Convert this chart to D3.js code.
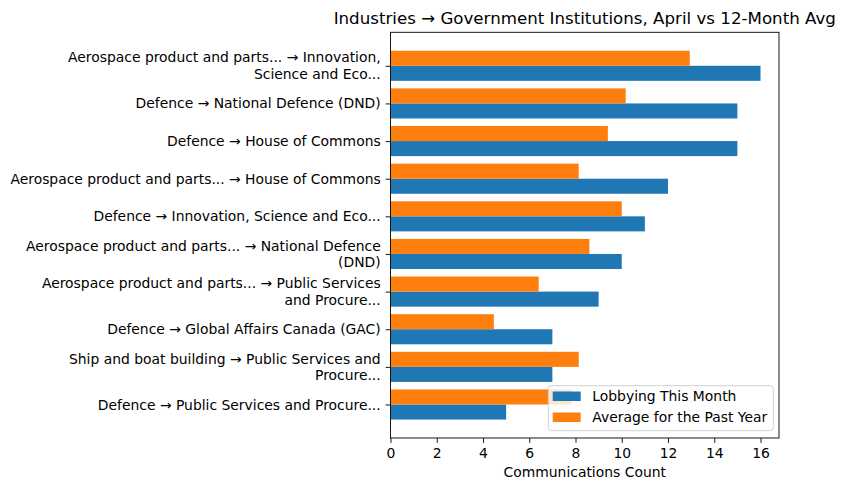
<!DOCTYPE html>
<html>
<head>
<meta charset="utf-8">
<script src="https://cdn.jsdelivr.net/npm/d3@7"></script>
<style>
  html, body { margin: 0; padding: 0; background: #fff; }
  text { font-family: "DejaVu Sans", sans-serif; fill: #000; }
</style>
</head>
<body>
<svg id="chart" width="845" height="491"></svg>
<script>
// Categories, listed top to bottom as shown
const categories = [
  "Aerospace product and parts... → Innovation,\nScience and Eco...",
  "Defence → National Defence (DND)",
  "Defence → House of Commons",
  "Aerospace product and parts... → House of Commons",
  "Defence → Innovation, Science and Eco...",
  "Aerospace product and parts... → National Defence\n(DND)",
  "Aerospace product and parts... → Public Services\nand Procure...",
  "Defence → Global Affairs Canada (GAC)",
  "Ship and boat building → Public Services and\nProcure...",
  "Defence → Public Services and Procure..."
];
const thisMonth = [16, 15, 15, 12, 11, 10, 9, 7, 7, 5];
const pastYearAvg = [12.94, 10.17, 9.40, 8.14, 10.0, 8.6, 6.41, 4.47, 8.14, 7.83];
const xTicks = [0, 2, 4, 6, 8, 10, 12, 14, 16];
const seriesNames = ["Lobbying This Month", "Average for the Past Year"];
const seriesColors = ["#1f77b4", "#ff7f0e"];
const titleText = "Industries → Government Institutions, April vs 12-Month Avg";
const xLabelText = "Communications Count";

const svg = d3.select("#chart");
const L = 390.5, R = 779, T = 32.3, B = 438;
const n = categories.length;
const h = 0.4;
const FS = 13.9;

const x = d3.scaleLinear().domain([0, 16.8]).range([L, R]);
const y = d3.scaleLinear().domain([-0.4 - 0.49, n - 1 + 0.4 + 0.49]).range([B, T]);

const rows = categories.map((c, i) => ({ label: c, idx: n - 1 - i, a: thisMonth[i], b: pastYearAvg[i] }));

const g = svg.append("g");
// blue bars (below tick)
g.selectAll("rect.a").data(rows).join("rect")
  .attr("x", x(0)).attr("width", d => x(d.a) - x(0))
  .attr("y", d => y(d.idx)).attr("height", d => y(d.idx - h) - y(d.idx))
  .attr("fill", seriesColors[0]);
// orange bars (above tick)
g.selectAll("rect.b").data(rows).join("rect")
  .attr("x", x(0)).attr("width", d => x(d.b) - x(0))
  .attr("y", d => y(d.idx + h)).attr("height", d => y(d.idx) - y(d.idx + h))
  .attr("fill", seriesColors[1]);

// frame
svg.append("rect").attr("x", L).attr("y", T).attr("width", R - L).attr("height", B - T)
  .attr("fill", "none").attr("stroke", "#000").attr("stroke-width", 0.9);

// x axis
const xAxis = d3.axisBottom(x).tickValues(xTicks).tickSize(4.9).tickPadding(4.9).tickFormat(d3.format("d"));
const xg = svg.append("g").attr("transform", `translate(0,${B})`).call(xAxis);
xg.select(".domain").remove();
xg.selectAll("line").attr("stroke", "#000").attr("stroke-width", 0.9);
xg.selectAll("text").attr("font-size", FS).attr("font-family", "DejaVu Sans").attr("fill", "#000");

// y axis with multiline labels
const yAxis = d3.axisLeft(y).tickValues(rows.map(r => r.idx)).tickSize(4.9).tickPadding(4.9).tickFormat("");
const yg = svg.append("g").attr("transform", `translate(${L},0)`).call(yAxis);
yg.select(".domain").remove();
yg.selectAll("line").attr("stroke", "#000").attr("stroke-width", 0.9);
const lineH = FS * 1.2;
rows.forEach(r => {
  const lines = r.label.split("\n");
  const t = svg.append("text").attr("text-anchor", "end").attr("font-size", FS)
    .attr("x", L - 9.8);
  const y0 = y(r.idx) - (lines.length - 1) * lineH / 2;
  lines.forEach((ln, k) => {
    t.append("tspan").attr("x", L - 9.8).attr("y", y0 + k * lineH).attr("dy", "0.36em").text(ln);
  });
});

// title
svg.append("text").attr("x", (L + R) / 2).attr("y", 23.5).attr("text-anchor", "middle")
  .attr("font-size", 16.67).text(titleText);
// x label
svg.append("text").attr("x", (L + R) / 2).attr("y", 477).attr("text-anchor", "middle")
  .attr("font-size", FS).text(xLabelText);

// legend
const lg = svg.append("g");
lg.append("rect").attr("x", 548.3).attr("y", 385.7).attr("width", 225).attr("height", 45)
  .attr("rx", 3).attr("fill", "#fff").attr("fill-opacity", 0.8).attr("stroke", "#ccc").attr("stroke-width", 0.9);
seriesNames.forEach((name, i) => {
  const cy = 396.2 + i * 21;
  lg.append("rect").attr("x", 552.7).attr("y", cy - 4.7).attr("width", 28).attr("height", 9.5).attr("fill", seriesColors[i]);
  lg.append("text").attr("x", 592.3).attr("y", cy).attr("dy", "0.36em").attr("font-size", FS).text(name);
});
</script>
</body>
</html>
